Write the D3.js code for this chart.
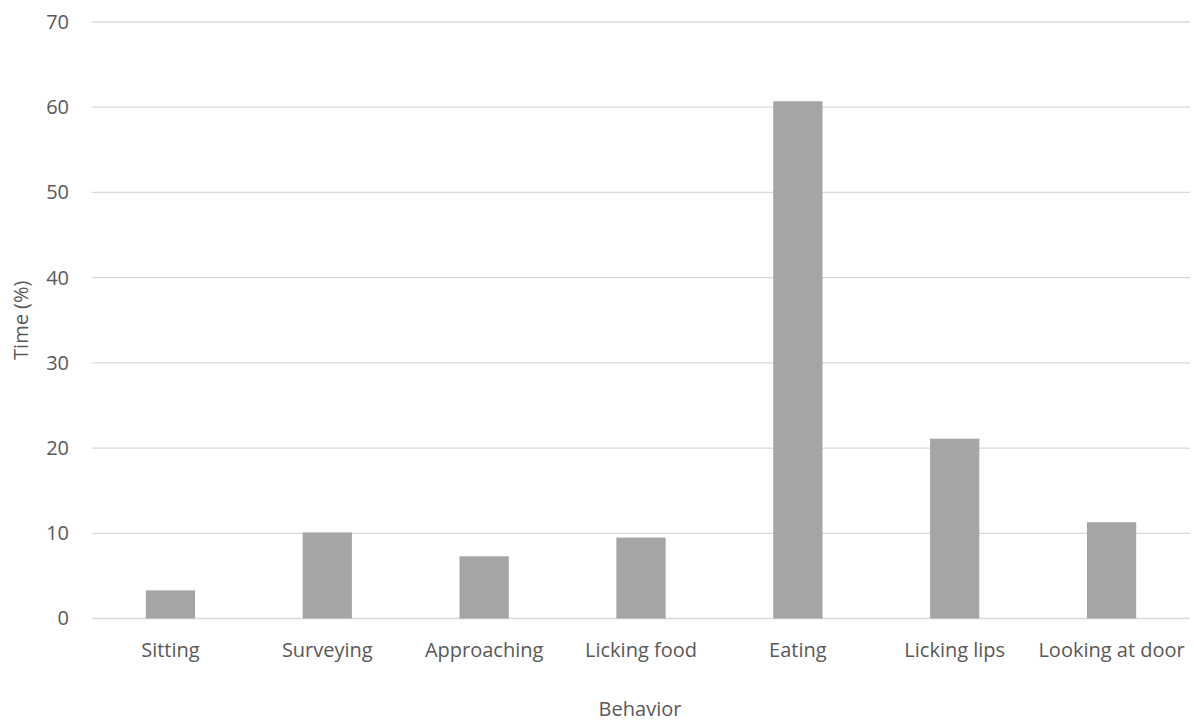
<!DOCTYPE html>
<html>
<head>
<meta charset="utf-8">
<script src="https://cdn.jsdelivr.net/npm/d3@7"></script>
<style>
  html, body { margin: 0; padding: 0; background: #fff; }
  svg text { font-family: "Open Sans", "Noto Sans", sans-serif; fill: #595959; }
</style>
</head>
<body>
<svg id="chart" width="1194" height="722"></svg>
<script>
// Share of observation time per behavior
const behaviors = ["Sitting", "Surveying", "Approaching", "Licking food", "Eating", "Licking lips", "Looking at door"];
const timePct = [3.3, 10.1, 7.3, 9.5, 60.7, 21.1, 11.3];
const yTicks = [0, 10, 20, 30, 40, 50, 60, 70];

const svg = d3.select("#chart");
const margin = { left: 92, right: 4, top: 22, bottom: 103.5 };
const width = 1194, height = 722;

const x = d3.scaleBand()
  .domain(behaviors)
  .range([margin.left, width - margin.right])
  .paddingInner(0.686)
  .paddingOuter(0.343);

const y = d3.scaleLinear()
  .domain([0, 70])
  .range([height - margin.bottom, margin.top]);

// Horizontal gridlines
svg.append("g")
  .selectAll("line")
  .data(yTicks)
  .join("line")
  .attr("x1", margin.left)
  .attr("x2", width - margin.right)
  .attr("y1", d => y(d))
  .attr("y2", d => y(d))
  .attr("stroke", "#d9d9d9")
  .attr("stroke-width", 1.3);

// Bars
svg.append("g")
  .selectAll("rect")
  .data(behaviors)
  .join("rect")
  .attr("x", d => x(d))
  .attr("width", x.bandwidth())
  .attr("y", (d, i) => y(timePct[i]))
  .attr("height", (d, i) => y(0) - y(timePct[i]))
  .attr("fill", "#a5a5a5");

// Y axis
const yAxis = svg.append("g")
  .attr("transform", `translate(${margin.left},0)`)
  .call(d3.axisLeft(y).tickValues(yTicks).tickSize(0).tickPadding(23));
yAxis.select(".domain").remove();
yAxis.selectAll("text").style("font-size", "20px").attr("fill", "#595959");

// X axis
const xAxis = svg.append("g")
  .attr("transform", `translate(0,${y(0)})`)
  .call(d3.axisBottom(x).tickSize(0).tickPadding(24));
xAxis.select(".domain").remove();
xAxis.selectAll("text").style("font-size", "20px").attr("fill", "#595959");

// Axis titles
svg.append("text")
  .attr("x", 640)
  .attr("y", 716)
  .attr("text-anchor", "middle")
  .style("font-size", "20px")
  .text("Behavior");

svg.append("text")
  .attr("transform", `translate(28,${(y(0) + y(70)) / 2}) rotate(-90)`)
  .attr("text-anchor", "middle")
  .style("font-size", "20px")
  .text("Time (%)");
</script>
</body>
</html>
